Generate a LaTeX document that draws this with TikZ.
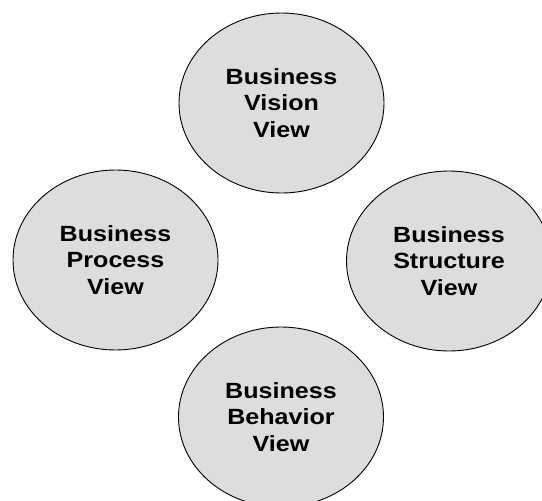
\documentclass[tikz,border=0pt]{standalone}
\usepackage{fontspec}
\setmainfont{Liberation Sans}[FakeStretch=1.14]
\usepackage{tikz}
\usepackage{xcolor}
\usetikzlibrary{shapes.geometric}
\definecolor{softgray}{RGB}{221,221,221}

\begin{document}
\begin{tikzpicture}[
  x=1pt, y=-1pt,
  font=\fontsize{22}{26.5}\selectfont\bfseries,
  view/.style={ellipse, draw, line width=0.9pt, fill=softgray, inner sep=0pt,
    minimum width=205pt, minimum height=180pt, align=center}
]
\clip (0,0) rectangle (542,501);
\node[view] (vision) at (281.5,103) {Business\\Vision\\View};
\node[view] (process) at (115.5,260) {Business\\Process\\View};
\node[view] (structure) at (449,261) {Business\\Structure\\View};
\node[view] (behavior) at (281,417) {Business\\Behavior\\View};
\end{tikzpicture}
\end{document}
